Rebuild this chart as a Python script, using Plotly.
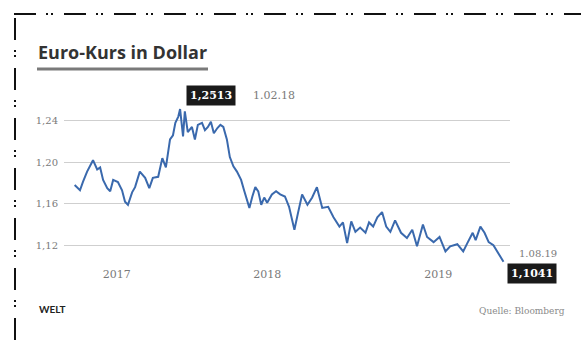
import plotly.graph_objects as go

# ---- data ----
dates = [
    "2017-08-07", "2017-08-16", "2017-08-21", "2017-08-28", "2017-09-07", "2017-09-14",
    "2017-09-19", "2017-09-24", "2017-10-01", "2017-10-06", "2017-10-11", "2017-10-19",
    "2017-10-26", "2017-10-31", "2017-11-05", "2017-11-12", "2017-11-17", "2017-11-25",
    "2017-12-04", "2017-12-11", "2017-12-17", "2017-12-26", "2018-01-02", "2018-01-08",
    "2018-01-15", "2018-01-20", "2018-01-24", "2018-01-29", "2018-02-01", "2018-02-06",
    "2018-02-09", "2018-02-14", "2018-02-21", "2018-02-26", "2018-03-03", "2018-03-10",
    "2018-03-15", "2018-03-20", "2018-03-25", "2018-03-30", "2018-04-05", "2018-04-10",
    "2018-04-15", "2018-04-21", "2018-04-26", "2018-05-02", "2018-05-08", "2018-05-15",
    "2018-05-20", "2018-05-25", "2018-05-29", "2018-06-03", "2018-06-08", "2018-06-13",
    "2018-06-18", "2018-06-23", "2018-06-28", "2018-07-06", "2018-07-13", "2018-07-20",
    "2018-07-28", "2018-08-04", "2018-08-13", "2018-08-19", "2018-08-26", "2018-09-04",
    "2018-09-12", "2018-09-20", "2018-09-29", "2018-10-09", "2018-10-18", "2018-10-28",
    "2018-11-03", "2018-11-10", "2018-11-17", "2018-11-24", "2018-12-02", "2018-12-11",
    "2018-12-17", "2018-12-24", "2018-12-31", "2019-01-08", "2019-01-15", "2019-01-22",
    "2019-01-30", "2019-02-09", "2019-02-19", "2019-02-28", "2019-03-08", "2019-03-18",
    "2019-03-25", "2019-04-05", "2019-04-15", "2019-04-25", "2019-05-03", "2019-05-15",
    "2019-05-25", "2019-06-01", "2019-06-10", "2019-06-15", "2019-06-23", "2019-06-30",
    "2019-07-07", "2019-07-15", "2019-07-23", "2019-08-01",
]
rates = [
    1.178, 1.173, 1.181, 1.191, 1.202, 1.193,
    1.195, 1.183, 1.175, 1.172, 1.183, 1.181,
    1.173, 1.162, 1.159, 1.171, 1.176, 1.191,
    1.185, 1.175, 1.185, 1.186, 1.204, 1.195,
    1.222, 1.226, 1.238, 1.244, 1.2513, 1.225,
    1.249, 1.229, 1.234, 1.222, 1.236, 1.238,
    1.231, 1.234, 1.239, 1.228, 1.233, 1.236,
    1.234, 1.222, 1.205, 1.196, 1.191, 1.183,
    1.173, 1.164, 1.156, 1.167, 1.176, 1.172,
    1.159, 1.166, 1.161, 1.169, 1.172, 1.169,
    1.167, 1.157, 1.135, 1.151, 1.169, 1.159,
    1.166, 1.176, 1.156, 1.157, 1.147, 1.138,
    1.142, 1.122, 1.143, 1.133, 1.137, 1.132,
    1.142, 1.138, 1.147, 1.152, 1.138, 1.133,
    1.144, 1.132, 1.127, 1.135, 1.119, 1.140,
    1.128, 1.123, 1.128, 1.114, 1.119, 1.121,
    1.114, 1.122, 1.132, 1.125, 1.138, 1.132,
    1.123, 1.120, 1.113, 1.1041,
]
y_ticks = [1.12, 1.16, 1.20, 1.24]
year_pos = ["2017-10-17", "2018-06-28", "2019-04-13"]
year_labels = ["2017", "2018", "2019"]

peak_date, peak_val, peak_lbl = "2018-02-01", 1.2513, "1.02.18"
last_date, last_val, last_lbl = "2019-08-01", 1.1041, "1.08.19"

# ---- layout geometry (pixels) ----
W, H = 581, 345
ML, MR, MT, MB = 64, 71, 100, 79
PW, PH = W - ML - MR, H - MT - MB


def px(x):
    return (x - ML) / PW


def py(y):
    return (H - MB - y) / PH


SERIF = "DejaVu Serif"

fig = go.Figure()
fig.add_trace(go.Scatter(
    x=dates, y=rates, mode="lines",
    line=dict(color="#3a69ad", width=2),
    hoverinfo="skip", showlegend=False,
))

fmt = lambda v: f"{v:.4f}".replace(".", ",")

annotations = [
    dict(text="<b>Euro-Kurs in Dollar</b>", xref="paper", yref="paper",
         x=px(36), y=py(52), xanchor="left", yanchor="middle", showarrow=False,
         font=dict(family="Open Sans", size=18, color="#333333")),
    dict(text="<b>WELT</b>", xref="paper", yref="paper",
         x=px(37), y=py(309), xanchor="left", yanchor="middle", showarrow=False,
         font=dict(family="Lato", size=10, color="#222222")),
    dict(text="Quelle: Bloomberg", xref="paper", yref="paper",
         x=px(567), y=py(311), xanchor="right", yanchor="middle", showarrow=False,
         font=dict(family=SERIF, size=9, color="#8a8a8a")),
    dict(text="<b>" + fmt(peak_val) + "</b>", x=peak_date, y=peak_val,
         xanchor="left", yanchor="bottom", xshift=6, yshift=3, showarrow=False,
         bgcolor="#1a1a1a", borderpad=3,
         font=dict(family=SERIF, size=11, color="#ffffff")),
    dict(text=peak_lbl, x=peak_date, y=peak_val,
         xanchor="left", yanchor="middle", xshift=71, yshift=14, showarrow=False,
         font=dict(family=SERIF, size=11, color="#7a7a7a")),
    dict(text="<b>" + fmt(last_val) + "</b>", x=last_date, y=last_val,
         xanchor="left", yanchor="top", xshift=4, yshift=-1, showarrow=False,
         bgcolor="#1a1a1a", borderpad=3,
         font=dict(family=SERIF, size=11, color="#ffffff")),
    dict(text=last_lbl, x=last_date, y=last_val,
         xanchor="left", yanchor="middle", xshift=14, yshift=8, showarrow=False,
         font=dict(family=SERIF, size=10, color="#7a7a7a")),
]

border_dash = "22px,10px,2px,3px,2px,11px"
shapes = [
    dict(type="line", xref="paper", yref="paper",
         x0=px(37), x1=px(208), y0=py(69), y1=py(69),
         line=dict(color="#7a7a7a", width=3)),
    dict(type="line", xref="paper", yref="paper",
         x0=px(14), x1=px(581), y0=py(14), y1=py(14),
         line=dict(color="#111111", width=2, dash=border_dash)),
    dict(type="line", xref="paper", yref="paper",
         x0=px(15), x1=px(15), y0=py(18), y1=py(345),
         line=dict(color="#111111", width=2, dash=border_dash)),
]

fig.update_layout(
    width=W, height=H,
    margin=dict(l=ML, r=MR, t=MT, b=MB, pad=0),
    paper_bgcolor="white", plot_bgcolor="white",
    separators=",.",
    showlegend=False,
    annotations=annotations,
    shapes=shapes,
    xaxis=dict(
        range=["2017-07-20", "2019-08-12"],
        tickvals=year_pos, ticktext=year_labels,
        showgrid=False, zeroline=False, showline=False, ticks="",
        tickfont=dict(family=SERIF, size=11, color="#7a7a7a"),
        fixedrange=True,
    ),
    yaxis=dict(
        range=[1.10, 1.26],
        tickvals=y_ticks, tickformat=".2f",
        showgrid=True, gridcolor="#cfcfcf", gridwidth=1,
        zeroline=False, showline=False, ticks="",
        ticklabelstandoff=5,
        tickfont=dict(family=SERIF, size=10, color="#7a7a7a"),
        fixedrange=True,
    ),
)

fig.write_html("out.html", config={"displayModeBar": False})
